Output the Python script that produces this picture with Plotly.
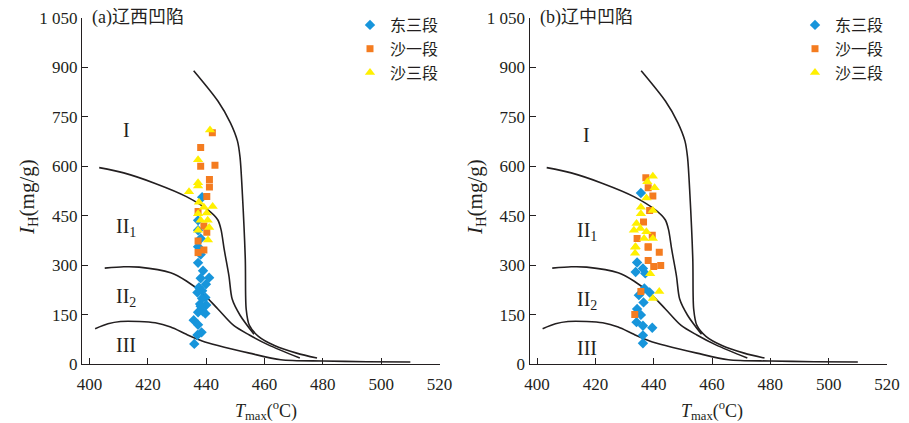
import plotly.graph_objects as go

# ---------------- boundary curves (shared by both panels) ----------------
curveA_T = [435.7, 444, 448.3, 450.7, 451.6, 452.4, 453.4, 453.7, 454.8, 458, 463.4, 471, 478]
curveA_H = [890, 798, 732, 677, 627, 516, 317, 167, 117, 83, 56, 33, 18]
curveB_T = [403.3, 411.7, 422.5, 433.2, 440.8, 444, 445.1, 446.2, 447.8, 448.9, 451.6, 456.4]
curveB_H = [596, 580, 548, 508, 466, 437, 407, 346, 267, 197, 148, 90]
curveC_T = [405.2, 411.7, 417, 427.8, 433.2, 438.6, 444, 449.4, 454.8, 461.3, 472.1]
curveC_H = [291, 295, 294, 277, 252, 216, 167, 117, 88, 58, 18]
curveD_T = [401.9, 406.3, 410.6, 417, 422.5, 427.8, 433.2, 438.6, 444, 454.8, 465.6, 480, 495, 510]
curveD_H = [107, 122, 129, 129, 125, 112, 90, 70, 56, 33, 13, 9, 7, 6]

# ---------------- (a) 辽西凹陷 ----------------
a_dong3_T = [438.6, 437.2, 437.2, 438.1, 437.2, 438.1, 437.2, 438.9, 438.1, 441, 439.9, 437.5, 438.6,
             437, 439.7, 438.6, 437.9, 440, 438.1, 437.2, 438.8, 439.7, 435.7, 437.2, 438.4, 437, 435.9]
a_dong3_H = [506, 436, 406, 381, 356, 332, 307, 283, 260, 262, 242, 232, 222,
             217, 202, 199, 182, 179, 175, 157, 160, 153, 133, 119, 96, 88, 61]
a_sha1_T = [442.1, 438.1, 438.1, 443, 441.1, 441.1, 440.2, 437.2, 439.2, 440.2, 437.2, 439.2, 437.2]
a_sha1_H = [702, 657, 600, 603, 560, 537, 508, 463, 419, 400, 373, 346, 338]
a_sha3_T = [441.3, 437.2, 437.2, 437.2, 434.1, 437.5, 442.2, 439.2, 440.2, 437.2, 438.1, 440.5, 441, 437.2, 440.6]
a_sha3_H = [710, 620, 550, 540, 523, 491, 478, 476, 458, 456, 436, 436, 414, 406, 376]

# ---------------- (b) 辽中凹陷 ----------------
b_dong3_T = [435.6, 434.3, 436.3, 433.8, 437.1, 436.8, 434.9, 438.6, 436.5, 434.3, 435.6, 434.1,
             436.3, 439.5, 436.3, 436.3]
b_dong3_H = [519, 308, 290, 279, 275, 229, 209, 217, 187, 167, 149, 127,
             116, 110, 87, 63]
b_sha1_T = [437.3, 438.1, 439.7, 438.6, 436.5, 439.5, 434.3, 438.1, 438.1, 441.9, 438.1, 440, 442.4, 435.6, 433.5]
b_sha1_H = [565, 535, 510, 466, 431, 391, 381, 354, 356, 339, 314, 296, 299, 220, 150]
b_sha3_T = [439.7, 440.3, 437.8, 437.5, 439.7, 435.6, 435.6, 434.1, 435.4, 433.2, 437.5, 436.7, 439.7,
            433.8, 433.6, 433.6, 438.8, 441.9, 439.7]
b_sha3_H = [570, 535, 553, 504, 466, 476, 456, 426, 411, 406, 401, 381, 381,
            356, 354, 336, 274, 220, 199]

series_names = ["东三段", "沙一段", "沙三段"]
series_colors = ["#1795db", "#f47c20", "#fff000"]
series_symbols = ["diamond", "square", "triangle-up"]
series_sizes = [8, 7, 9]

x_ticks = [400, 420, 440, 460, 480, 500, 520]
y_ticks = [0, 150, 300, 450, 600, 750, 900, 1050]
y_ticktext = ["0", "150", "300", "450", "600", "750", "900", "1 050"]

region_labels = ["I", "II<sub>1</sub>", "II<sub>2</sub>", "III"]
region_H_a = [710, 413, 203, 58]
region_H_b = [695, 402, 194, 49]

# the page body has an 8px margin; the figure fills the rest of the 909x423 window
OFF = 8
W, H = 909 - OFF, 423 - OFF
FONT = "Liberation Serif, Times New Roman, Noto Sans CJK SC, serif"
INK = "#231f20"

fig = go.Figure()

panels = [
    dict(xa="x", ya="y", leg="legend",
         data=[(a_dong3_T, a_dong3_H), (a_sha1_T, a_sha1_H), (a_sha3_T, a_sha3_H)]),
    dict(xa="x2", ya="y2", leg="legend2",
         data=[(b_dong3_T, b_dong3_H), (b_sha1_T, b_sha1_H), (b_sha3_T, b_sha3_H)]),
]

for p in panels:
    for cx, cy in [(curveA_T, curveA_H), (curveB_T, curveB_H), (curveC_T, curveC_H), (curveD_T, curveD_H)]:
        fig.add_trace(go.Scatter(x=cx, y=cy, mode="lines", xaxis=p["xa"], yaxis=p["ya"],
                                 line=dict(color=INK, width=1.6, shape="spline", smoothing=0.8),
                                 showlegend=False, hoverinfo="skip"))
    for i, (tx, hy) in enumerate(p["data"]):
        fig.add_trace(go.Scatter(x=tx, y=hy, mode="markers", name=series_names[i],
                                 xaxis=p["xa"], yaxis=p["ya"], legend=p["leg"],
                                 marker=dict(symbol=series_symbols[i], size=series_sizes[i],
                                             color=series_colors[i], line=dict(width=0))))


def px(x):
    """screen pixel x -> paper fraction"""
    return (x - OFF) / W


def py(y):
    """screen pixel y -> paper fraction"""
    return 1 - (y - OFF) / H


L0, L1 = 82.0, 439.5
R0, R1 = 529.5, 887.0
Y0, Y1 = 364.0, 18.0
XR = [397.4, 520]

axis_common = dict(range=XR, tickvals=x_ticks, ticks="inside", ticklen=6, tickwidth=1.2,
                   tickcolor=INK, showline=True, linecolor=INK, linewidth=1.4, ticklabelstandoff=4,
                   ticklabeloverflow="allow",
                   showgrid=False, zeroline=False, tickfont=dict(family=FONT, size=17, color=INK))
yaxis_common = dict(range=[0, 1050], tickvals=y_ticks, ticktext=y_ticktext, ticks="inside", ticklen=6,
                    tickwidth=1.2, tickcolor=INK, showline=True, linecolor=INK, linewidth=1.4,
                    ticklabeloverflow="allow",
                    showgrid=False, zeroline=False, tickfont=dict(family=FONT, size=17, color=INK))

legend_common = dict(xanchor="left", yanchor="top", bgcolor="rgba(0,0,0,0)",
                     font=dict(family=FONT, size=16, color=INK), tracegroupgap=0, itemwidth=30)

fig.update_layout(
    width=W, height=H, autosize=False,
    margin=dict(l=0, r=0, t=0, b=0, autoexpand=False),
    paper_bgcolor="white", plot_bgcolor="white",
    font=dict(family=FONT, color=INK),
    xaxis=dict(domain=[px(L0), px(L1)], anchor="y", **axis_common),
    yaxis=dict(domain=[py(Y0), py(Y1)], anchor="x", **yaxis_common),
    xaxis2=dict(domain=[px(R0), px(R1)], anchor="y2", **axis_common),
    yaxis2=dict(domain=[py(Y0), py(Y1)], anchor="x2", **yaxis_common),
    legend=dict(x=px(350), y=py(8), **legend_common),
    legend2=dict(x=px(795), y=py(8), **legend_common),
)

annotations = []
for xa, ya, title, lx, rh in [("x", "y", "(a)辽西凹陷", 412.5, region_H_a),
                              ("x2", "y2", "(b)辽中凹陷", 417.0, region_H_b)]:
    annotations.append(dict(x=400.3, y=1050, xref=xa, yref=ya, text=title, showarrow=False,
                            xanchor="left", yanchor="middle",
                            font=dict(family=FONT, size=18, color=INK)))
    for lab, hv in zip(region_labels, rh):
        annotations.append(dict(x=lx, y=hv, xref=xa, yref=ya, text=lab, showarrow=False,
                                xanchor="center", yanchor="middle",
                                font=dict(family=FONT, size=20, color=INK)))

for xc, yc_title in [(266, 28), (712, 476)]:
    annotations.append(dict(x=px(xc), y=py(410), xref="paper", yref="paper",
                            text="<i>T</i><sub>max</sub>(<sup>o</sup>C)", showarrow=False,
                            xanchor="center", yanchor="middle",
                            font=dict(family=FONT, size=18, color=INK)))
    annotations.append(dict(x=px(yc_title), y=py(197), xref="paper", yref="paper",
                            text="<i>I</i><sub>H</sub>(mg/g)", showarrow=False, textangle=-90,
                            xanchor="center", yanchor="middle",
                            font=dict(family=FONT, size=21, color=INK)))

fig.update_layout(annotations=annotations)

fig.write_html("out.html")
